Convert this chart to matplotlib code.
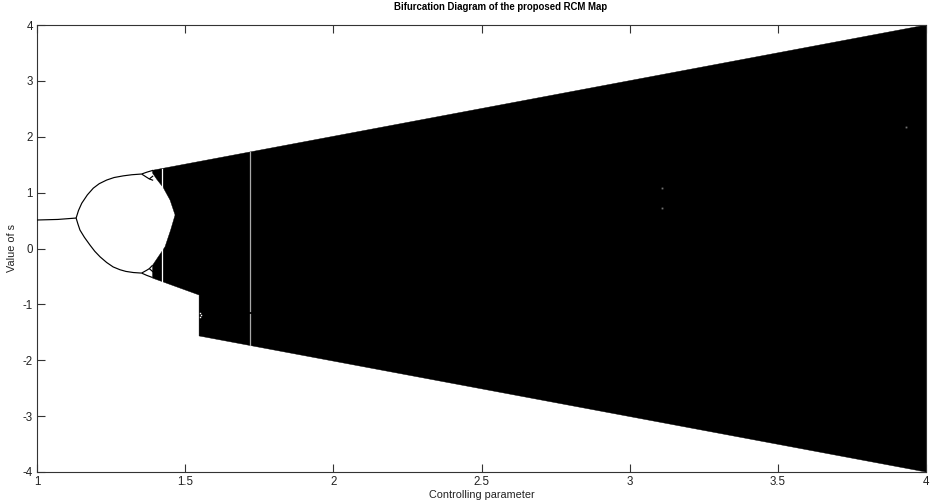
import numpy as np
import matplotlib
matplotlib.use("Agg")
import matplotlib.pyplot as plt

plt.rcParams['font.family'] = ['Liberation Sans', 'DejaVu Sans']

# ---- stable branches (period 1, period 2, period 4) ----
p1_x = [1.0, 1.07, 1.132]
p1_y = [0.51, 0.52, 0.545]

p2_up_x = [1.132, 1.14, 1.151, 1.17, 1.19, 1.21, 1.235, 1.26, 1.291, 1.32, 1.353]
p2_up_y = [0.545, 0.68, 0.81, 0.96, 1.08, 1.16, 1.225, 1.27, 1.30, 1.32, 1.333]
p2_lo_x = [1.132, 1.138, 1.145, 1.16, 1.179, 1.195, 1.213, 1.235, 1.257, 1.28, 1.30, 1.325, 1.353]
p2_lo_y = [0.545, 0.44, 0.33, 0.20, 0.06, -0.05, -0.15, -0.25, -0.33, -0.38, -0.41, -0.43, -0.44]

p4_a_x = [1.353, 1.37, 1.392]
p4_a_y = [1.333, 1.365, 1.40]
p4_b_x = [1.353, 1.37, 1.379, 1.392]
p4_b_y = [1.333, 1.275, 1.245, 1.22]
p4_b2_x = [1.379, 1.392]
p4_b2_y = [1.245, 1.30]
p4_c_x = [1.353, 1.37, 1.39]
p4_c_y = [-0.44, -0.48, -0.52]
p4_d_x = [1.353, 1.37, 1.379, 1.39]
p4_d_y = [-0.44, -0.39, -0.36, -0.30]
p4_d2_x = [1.379, 1.392]
p4_d2_y = [-0.36, -0.42]

# ---- chaotic region envelope ----
upper_x = [1.39, 4.0]
upper_y = [1.40, 4.0]
lower_x = [1.39, 1.547, 1.547, 4.0]
lower_y = [-0.53, -0.832, -1.565, -4.0]
# inner edge of the two chaotic bands (closes around the period-2 interior)
inner_x = [1.39, 1.409, 1.432, 1.451, 1.466, 1.449, 1.426, 1.404, 1.39]
inner_y = [-0.30, -0.15, 0.03, 0.33, 0.60, 0.868, 1.09, 1.24, 1.35]

# periodic windows
window_white_x = 1.423
window_white_y = [-0.61, 1.415]
window_gray_x = 1.719
window_gray_segments = [(-1.73, -1.17), (-1.11, 1.72)]

# isolated points inside the chaotic band
speck_x = [3.109, 3.109, 3.931]
speck_y = [1.088, 0.719, 2.179]
step_speck_x = [1.551, 1.551, 1.553]
step_speck_y = [-1.15, -1.22, -1.19]

x_ticks = [1, 1.5, 2, 2.5, 3, 3.5, 4]
x_tick_labels = ["1", "1.5", "2", "2.5", "3", "3.5", "4"]
y_ticks = [-4, -3, -2, -1, 0, 1, 2, 3, 4]
y_tick_labels = ["-4", "-3", "-2", "-1", "0", "1", "2", "3", "4"]

fig = plt.figure(figsize=(9.3, 5.04), dpi=100)
ax = fig.add_axes([37 / 930, 32 / 504, 889 / 930, 447 / 504])

# chaotic region as a single polygon: outer envelope then inner edge
poly_x = list(upper_x) + list(lower_x[::-1]) + list(inner_x)
poly_y = list(upper_y) + list(lower_y[::-1]) + list(inner_y)
ax.fill(poly_x, poly_y, color='black', lw=0.3, zorder=2)

branch_kw = dict(color='black', lw=0.85, zorder=3, solid_capstyle='butt',
                 solid_joinstyle='round')
for bx, by in [(p1_x, p1_y), (p2_up_x, p2_up_y), (p2_lo_x, p2_lo_y),
               (p4_a_x, p4_a_y), (p4_b_x, p4_b_y), (p4_b2_x, p4_b2_y),
               (p4_c_x, p4_c_y), (p4_d_x, p4_d_y), (p4_d2_x, p4_d2_y)]:
    ax.plot(bx, by, **branch_kw)

ax.plot([window_white_x, window_white_x], window_white_y, color='white', lw=0.9, zorder=4)
for y0, y1 in window_gray_segments:
    ax.plot([window_gray_x, window_gray_x], [y0, y1], color='#a8a8a8', lw=0.9, zorder=4)

ax.plot(speck_x, speck_y, ls='none', marker='s', ms=1.3, mew=0, color='#707070', zorder=5)
ax.plot(step_speck_x, step_speck_y, ls='none', marker='s', ms=1.0, mew=0, color='white', zorder=5)

ax.set_xlim(1, 4)
ax.set_ylim(-4, 4)
ax.set_xticks(x_ticks)
ax.set_xticklabels(x_tick_labels)
ax.set_yticks(y_ticks)
ax.set_yticklabels(y_tick_labels)
ax.tick_params(direction='in', length=6, width=0.8, color='#333333',
               labelsize=8.3, labelcolor='#222222', top=True, right=True, pad=3)
for sp in ax.spines.values():
    sp.set_color('#333333')
    sp.set_linewidth(0.8)

ax.set_title("Bifurcation Diagram of the proposed RCM Map", fontsize=6.9,
             fontweight='bold', pad=11, x=0.521)
ax.set_xlabel("Controlling parameter", fontsize=7.8, labelpad=1, color='#222222')
ax.set_ylabel("Value of s", fontsize=7.8, labelpad=4, color='#222222')

fig.savefig("out.png", dpi=100, facecolor='white')
